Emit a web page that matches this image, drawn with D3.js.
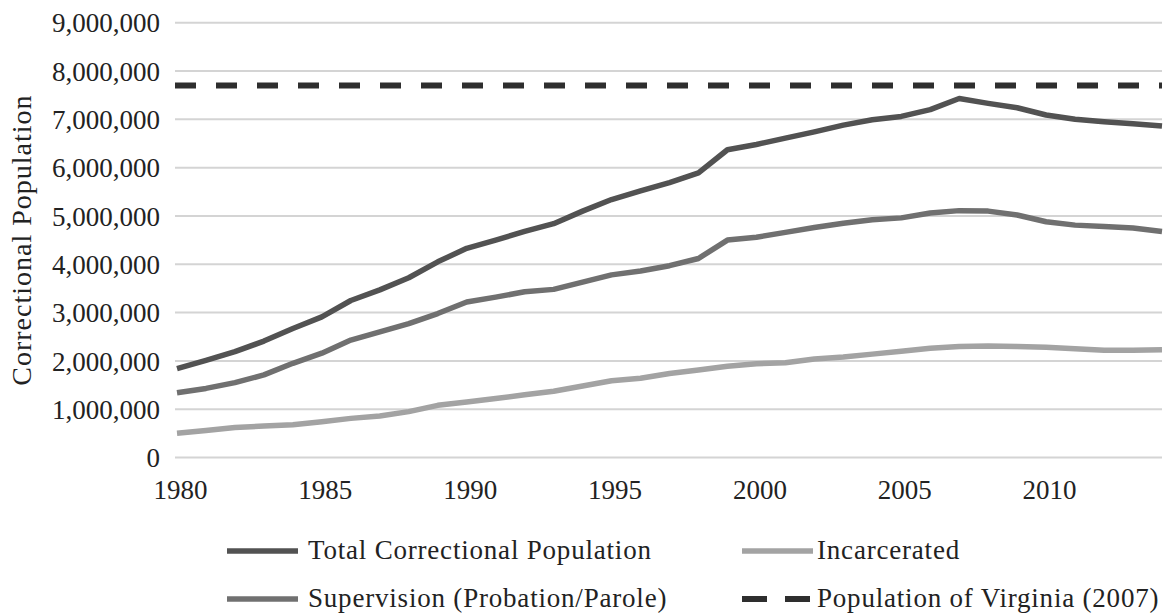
<!DOCTYPE html>
<html>
<head>
<meta charset="utf-8">
<script src="https://cdn.jsdelivr.net/npm/d3@7"></script>
<style>
  html, body { margin: 0; padding: 0; background: #fff; }
  svg { display: block; font-family: "Liberation Serif", "Times New Roman", serif; }
</style>
</head>
<body>
<svg id="chart" width="1170" height="613"></svg>
<script>
const years = d3.range(1980, 2015);
const totalPop = [1840000, 2010000, 2190000, 2410000, 2670000, 2910000, 3250000, 3470000, 3720000, 4050000,
  4330000, 4500000, 4680000, 4840000, 5100000, 5340000, 5520000, 5690000, 5890000, 6370000,
  6480000, 6610000, 6740000, 6880000, 6990000, 7060000, 7200000, 7430000, 7330000, 7240000,
  7090000, 7000000, 6950000, 6910000, 6860000];
const supervision = [1340000, 1430000, 1550000, 1710000, 1950000, 2160000, 2430000, 2600000, 2770000, 2980000,
  3220000, 3320000, 3430000, 3480000, 3630000, 3780000, 3860000, 3970000, 4120000, 4500000,
  4560000, 4660000, 4760000, 4850000, 4920000, 4960000, 5060000, 5110000, 5100000, 5020000,
  4880000, 4810000, 4780000, 4750000, 4680000];
const incarcerated = [500000, 560000, 620000, 650000, 680000, 740000, 810000, 860000, 950000, 1080000,
  1150000, 1220000, 1300000, 1370000, 1480000, 1590000, 1640000, 1740000, 1810000, 1890000,
  1940000, 1960000, 2040000, 2080000, 2140000, 2200000, 2260000, 2300000, 2310000, 2300000,
  2280000, 2250000, 2220000, 2220000, 2230000];
const virginiaPop2007 = 7700000;
const yTicks = [0, 1000000, 2000000, 3000000, 4000000, 5000000, 6000000, 7000000, 8000000, 9000000];
const xTicks = [1980, 1985, 1990, 1995, 2000, 2005, 2010];
const legendLabels = ["Total Correctional Population", "Incarcerated", "Supervision (Probation/Parole)", "Population of Virginia (2007)"];

const svg = d3.select("#chart");
const x = d3.scaleLinear().domain([1980, 2014]).range([177, 1162]);
const y = d3.scaleLinear().domain([0, 9000000]).range([457.5, 22.7]);
const fmt = d3.format(",");

// gridlines
svg.append("g").selectAll("line").data(yTicks).join("line")
  .attr("x1", x(1980) - 2).attr("x2", x(2014))
  .attr("y1", d => y(d)).attr("y2", d => y(d))
  .attr("stroke", "#d4d4d4").attr("stroke-width", 2);

// y axis labels
const yAxis = d3.axisLeft(y).tickValues(yTicks).tickFormat(fmt).tickSize(0).tickPadding(0);
const gy = svg.append("g").attr("transform", "translate(160,0)").call(yAxis);
gy.select(".domain").remove();
gy.selectAll("text").attr("font-size", 27).attr("fill", "#222")
  .attr("font-family", "'Liberation Serif', serif").attr("dy", "0.34em");

// x axis labels
const xAxis = d3.axisBottom(x).tickValues(xTicks).tickFormat(d3.format("d")).tickSize(0).tickPadding(0);
const gx = svg.append("g").attr("transform", "translate(3,480)").call(xAxis);
gx.select(".domain").remove();
gx.selectAll("text").attr("font-size", 27).attr("fill", "#222")
  .attr("font-family", "'Liberation Serif', serif").attr("dy", "0.72em");

// y title
svg.append("text")
  .attr("transform", `translate(31,${(y(0) + y(9000000)) / 2}) rotate(-90)`)
  .attr("text-anchor", "middle")
  .attr("font-size", 28).attr("letter-spacing", "1px").attr("fill", "#222")
  .text("Correctional Population");

// Virginia dashed line
svg.append("line")
  .attr("x1", x(1980) - 2).attr("x2", x(2014))
  .attr("y1", y(virginiaPop2007)).attr("y2", y(virginiaPop2007))
  .attr("stroke", "#2e2e2e").attr("stroke-width", 6)
  .attr("stroke-dasharray", "21,20");

const line = d3.line().x((d, i) => x(years[i])).y(d => y(d));
const series = [
  { vals: incarcerated, color: "#a3a3a3" },
  { vals: supervision, color: "#707070" },
  { vals: totalPop, color: "#525252" }
];
svg.append("g").selectAll("path").data(series).join("path")
  .attr("d", d => line(d.vals))
  .attr("fill", "none").attr("stroke", d => d.color)
  .attr("stroke-width", 5.5).attr("stroke-linejoin", "round");

// legend
const legendItems = [
  { label: legendLabels[0], color: "#525252", dash: null, lx: 227, tx: 308, ly: 551 },
  { label: legendLabels[1], color: "#a3a3a3", dash: null, lx: 742, tx: 817, ly: 551 },
  { label: legendLabels[2], color: "#707070", dash: null, lx: 227, tx: 308, ly: 599 },
  { label: legendLabels[3], color: "#2e2e2e", dash: "25,18", lx: 742, tx: 817, ly: 599 }
];
const lg = svg.append("g").selectAll("g").data(legendItems).join("g");
lg.append("line")
  .attr("x1", d => d.lx).attr("x2", d => d.lx + 71)
  .attr("y1", d => d.ly).attr("y2", d => d.ly)
  .attr("stroke", d => d.color).attr("stroke-width", d => d.dash ? 6 : 5.5)
  .attr("stroke-dasharray", d => d.dash);
lg.append("text")
  .attr("x", d => d.tx).attr("y", d => d.ly + 8)
  .attr("font-size", 27).attr("letter-spacing", "0.8px").attr("fill", "#222")
  .text(d => d.label);
</script>
</body>
</html>
